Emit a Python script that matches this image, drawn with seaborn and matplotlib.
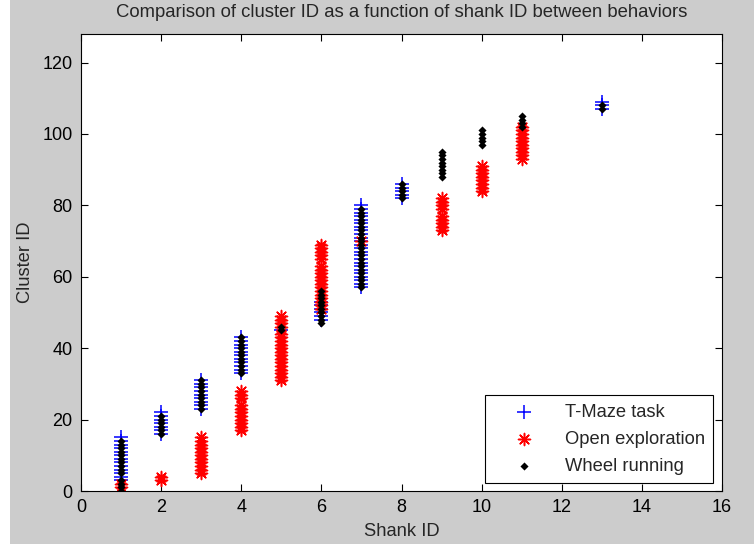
import matplotlib
matplotlib.use("Agg")
import matplotlib.pyplot as plt
import seaborn as sns
import pandas as pd
from matplotlib.patches import Rectangle

# ---- data (cluster IDs per shank) ----
tmaze = {
    1: [3, 4, 5, 6, 7, 8, 9, 10, 11, 12, 13, 14, 15],
    2: [16, 17, 18, 19, 20, 21, 22],
    3: [23, 24, 25, 26, 27, 28, 29, 30, 31],
    4: [33, 34, 35, 36, 37, 38, 39, 40, 41, 42, 43],
    5: [45],
    6: [48, 49, 50, 51, 52, 53],
    7: [57, 58, 59, 60, 61, 62, 63, 64, 65, 66, 67, 68, 69, 70, 71, 72,
        73, 74, 75, 76, 77, 78, 79, 80],
    8: [82, 83, 84, 85, 86],
    13: [107, 108, 109],
}
open_expl = {
    1: [1, 2],
    2: [3, 4],
    3: [5, 6, 7, 8, 9, 10, 11, 12, 13, 14, 15],
    4: [17, 18, 19, 20, 21, 22, 23, 24, 26, 27, 28],
    5: [31, 32, 33, 34, 35, 36, 37, 38, 39, 40, 41, 42, 43, 44, 46, 47, 48, 49],
    6: [51, 52, 53, 54, 55, 56, 57, 58, 59, 60, 61, 62, 63, 65, 66, 67, 68, 69],
    7: [70],
    9: [73, 74, 75, 76, 77, 79, 80, 81, 82],
    10: [84, 85, 86, 87, 88, 89, 90, 91],
    11: [93, 94, 95, 96, 97, 98, 99, 100, 101, 102],
}
wheel = {
    1: [0, 1, 2, 3, 5, 6, 7, 8, 9, 10, 11, 12, 13, 14],
    2: [16, 17, 18, 19, 20, 21],
    3: [23, 24, 25, 26, 27, 28, 29, 30, 31],
    4: [33, 34, 35, 36, 37, 38, 39, 40, 41, 42, 43],
    5: [45, 46],
    6: [47, 48, 49, 50, 51, 52, 53, 54, 55, 56],
    7: [57, 58, 59, 60, 61, 62, 63, 64, 65, 66, 67, 68, 69, 70, 71, 72,
        73, 74, 75, 76, 77, 78, 79],
    8: [82, 83, 84, 85, 86],
    9: [88, 89, 90, 91, 92, 93, 94, 95],
    10: [97, 98, 99, 100, 101],
    11: [102, 103, 104, 105],
    13: [107, 108],
}
labels = ["T-Maze task", "Open exploration", "Wheel running"]
x_ticks = [0, 2, 4, 6, 8, 10, 12, 14, 16]
y_ticks = [0, 20, 40, 60, 80, 100, 120]


def to_frame(d, name):
    rows = [(name, s, c) for s, cl in d.items() for c in cl]
    return pd.DataFrame(rows, columns=["behavior", "shank", "cluster"])


df = pd.concat([to_frame(tmaze, labels[0]),
                to_frame(open_expl, labels[1]),
                to_frame(wheel, labels[2])], ignore_index=True)

sns.set_style("ticks")
plt.rcParams["font.family"] = ["Liberation Sans", "DejaVu Sans"]

fig = plt.figure(figsize=(7.54, 5.44), dpi=100)
fig.patch.set_facecolor("#cccccc")
fig.patches.append(Rectangle((0, 0), 10 / 754, 1, transform=fig.transFigure,
                             facecolor="white", edgecolor="none", zorder=-1))
ax = fig.add_axes([81 / 754, (544 - 491) / 544, (722 - 81) / 754, (491 - 34) / 544])
ax.set_facecolor("white")

styles = {
    labels[0]: dict(marker="+", color="#0000ff", s=100, linewidth=1.1),
    labels[1]: dict(marker=(8, 2, 0), color="#ff0000", s=75, linewidth=1.1),
    labels[2]: dict(marker="D", color="#000000", s=17, linewidth=0),
}
for lab in labels:
    sub = df[df["behavior"] == lab]
    st = styles[lab]
    sns.scatterplot(data=sub, x="shank", y="cluster", ax=ax, label=lab,
                    marker=st["marker"], color=st["color"], s=st["s"],
                    linewidth=st["linewidth"], edgecolor=st["color"] if st["linewidth"] else None)

ax.set_xlim(0, 16)
ax.set_ylim(0, 128)
ax.set_xticks(x_ticks)
ax.set_yticks(y_ticks)
ax.tick_params(direction="in", length=5, width=0.8, top=True, right=True,
               labelsize=13, colors="black", pad=6)
for sp in ax.spines.values():
    sp.set_visible(True)
    sp.set_color("black")
    sp.set_linewidth(0.8)

ax.set_xlabel("Shank ID", fontsize=13.2, labelpad=5)
ax.set_ylabel("Cluster ID", fontsize=13.2, labelpad=6)
ax.set_title("Comparison of cluster ID as a function of shank ID between behaviors",
             fontsize=13.3, pad=12)

leg = ax.legend(loc="lower right", bbox_to_anchor=(0.986, 0.0175), borderaxespad=0,
                fontsize=13.2, frameon=True, fancybox=False, edgecolor="black",
                framealpha=1, handlelength=3.4, handletextpad=0.5,
                labelspacing=0.55, borderpad=0.45)
leg.get_frame().set_linewidth(0.8)

fig.savefig("out.png", dpi=100, facecolor=fig.get_facecolor())
